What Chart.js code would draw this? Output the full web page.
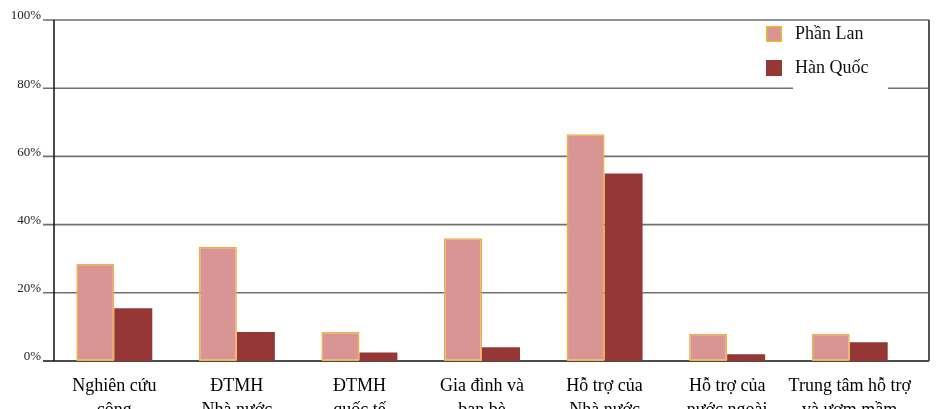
<!DOCTYPE html>
<html>
<head>
<meta charset="utf-8">
<script src="https://cdn.jsdelivr.net/npm/chart.js@4/dist/chart.umd.min.js"></script>
<style>
  html, body { margin: 0; padding: 0; background: #fff; }
  canvas { display: block; }
</style>
</head>
<body>
<canvas id="chart-funding" width="937" height="409"></canvas>
<script>
// ── DATA ──
const categories = [
    ['Nghiên cứu', 'công'],
    ['ĐTMH', 'Nhà nước'],
    ['ĐTMH', 'quốc tế'],
    ['Gia đình và', 'bạn bè'],
    ['Hỗ trợ của', 'Nhà nước'],
    ['Hỗ trợ của', 'nước ngoài'],
    ['Trung tâm hỗ trợ', 'và ươm mầm']
];
const finland = [28.5, 33.5, 8.5, 36, 66.5, 8, 8];
const korea = [15.5, 8.5, 2.5, 4, 55, 2, 5.5];
const yTicks = [0, 20, 40, 60, 80, 100];

const SERIF = '"Liberation Serif", "Times New Roman", serif';

// horizontal rules + axis frame, drawn under the bars
const frameLines = {
    id: 'frameLines',
    beforeDatasetsDraw(chart) {
        const { ctx, chartArea } = chart;
        const y = chart.scales.y;
        const x0 = chartArea.left - 10;
        const x1 = chartArea.right + 18;
        ctx.save();
        yTicks.forEach(v => {
            const py = y.getPixelForValue(v);
            ctx.beginPath();
            if (v === 0) { ctx.strokeStyle = '#111'; ctx.lineWidth = 1.5; }
            else if (v === 100) { ctx.strokeStyle = '#222'; ctx.lineWidth = 1.2; }
            else { ctx.strokeStyle = '#707070'; ctx.lineWidth = 1.6; }
            ctx.moveTo(x0, py);
            ctx.lineTo(x1, py);
            ctx.stroke();
        });
        const top = y.getPixelForValue(100);
        const bottom = y.getPixelForValue(0);
        // left axis
        ctx.beginPath();
        ctx.strokeStyle = '#111';
        ctx.lineWidth = 1.5;
        ctx.moveTo(chartArea.left + 1, top);
        ctx.lineTo(chartArea.left + 1, bottom);
        ctx.stroke();
        // right border
        ctx.beginPath();
        ctx.strokeStyle = '#555';
        ctx.lineWidth = 2;
        ctx.moveTo(x1, top);
        ctx.lineTo(x1, bottom);
        ctx.stroke();
        ctx.restore();
    }
};

// legend box in the top right corner
const cornerLegend = {
    id: 'cornerLegend',
    afterDatasetsDraw(chart) {
        const { ctx, chartArea } = chart;
        const left = chartArea.right - 145;
        ctx.save();
        ctx.fillStyle = '#fff';
        ctx.fillRect(left + 27, 23, 95, 68);
        chart.data.datasets.forEach((ds, i) => {
            const top = 26 + i * 34;
            ctx.fillStyle = ds.backgroundColor;
            ctx.fillRect(left, top, 16, 16);
            if (ds.borderWidth) {
                ctx.strokeStyle = ds.borderColor;
                ctx.lineWidth = 1.5;
                ctx.strokeRect(left + 0.75, top + 0.75, 14.5, 14.5);
            }
            ctx.fillStyle = '#111';
            ctx.font = '18px ' + SERIF;
            ctx.textBaseline = 'middle';
            ctx.textAlign = 'left';
            ctx.fillText(ds.label, left + 29, top + 8);
        });
        ctx.restore();
    }
};

function initChart() {
    const ctx = document.getElementById('chart-funding');
    if (!ctx) return;

    new Chart(ctx.getContext('2d'), {
        type: 'bar',
        data: {
            labels: categories,
            datasets: [{
                label: 'Phần Lan',
                data: finland,
                backgroundColor: '#D99594',
                borderColor: '#F2B13A',
                borderWidth: 1.5,
                borderSkipped: false
            }, {
                label: 'Hàn Quốc',
                data: korea,
                backgroundColor: '#953735',
                borderWidth: 0
            }]
        },
        options: {
            responsive: false,
            devicePixelRatio: 1,
            animation: false,
            layout: { padding: { top: 20, right: 26, left: 0, bottom: 0 } },
            datasets: {
                bar: { categoryPercentage: 0.62, barPercentage: 1 }
            },
            scales: {
                y: {
                    min: 0, max: 100,
                    afterFit: s => { s.width = 53; },
                    ticks: {
                        stepSize: 20,
                        callback: v => v + '%',
                        color: '#222',
                        padding: 12,
                        labelOffset: -4,
                        font: { family: SERIF, size: 13 }
                    },
                    grid: { display: false, drawTicks: false },
                    border: { display: false }
                },
                x: {
                    afterFit: s => { s.height = 48; },
                    ticks: {
                        color: '#000',
                        autoSkip: false,
                        maxRotation: 0,
                        padding: 14,
                        font: { family: SERIF, size: 18, lineHeight: 1.3 }
                    },
                    grid: { display: false, drawTicks: false },
                    border: { display: false }
                }
            },
            plugins: {
                legend: { display: false },
                tooltip: { enabled: false }
            }
        },
        plugins: [frameLines, cornerLegend]
    });
}

initChart();
</script>
</body>
</html>
